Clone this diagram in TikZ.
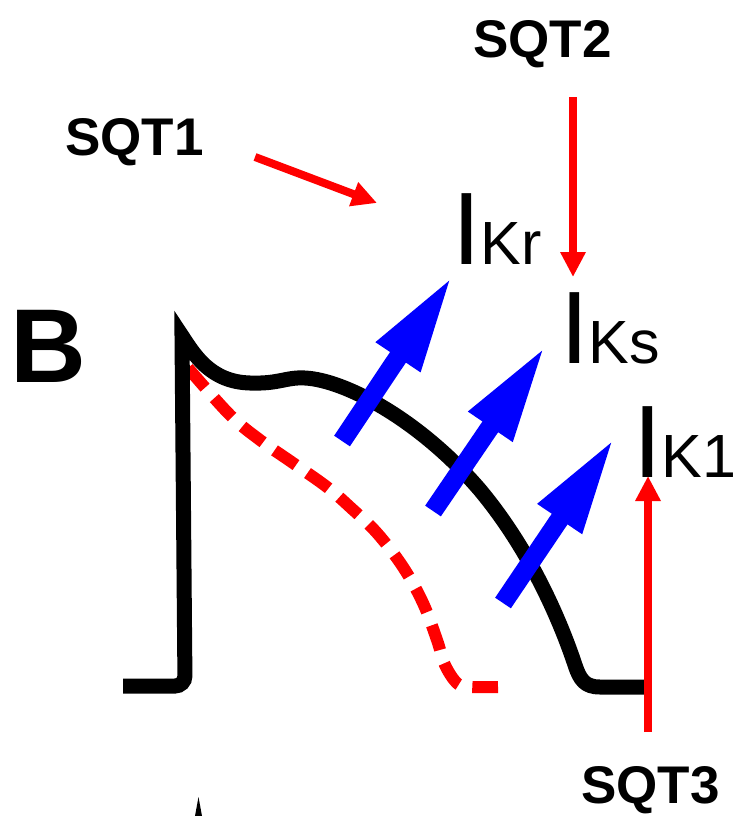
\documentclass[tikz,border=0pt]{standalone}
\usepackage{fontspec}
\setmainfont{Liberation Sans}
\usetikzlibrary{arrows.meta}

\newcommand{\ionlbl}[1]{{\fontsize{103}{103}\selectfont I}{\fontsize{61}{61}\selectfont #1}}

\begin{document}
\begin{tikzpicture}[
        x=1pt, y=-1pt,
        apline/.style={line width=15pt, line join=miter, miter limit=20},
        aprisk/.style={red, line width=12pt, dash pattern=on 26pt off 14pt},
        current/.style={blue, line width=19pt, -{Triangle[length=99pt, width=48pt]}},
        sqtarr/.style={red, line width=8pt, -{Triangle[length=25pt, width=24pt]}},
        sqtlbl/.style={anchor=base west, inner sep=0pt, font=\fontsize{53}{53}\selectfont\bfseries},
        curlbl/.style={anchor=base west, inner sep=0pt}
    ]
        \useasboundingbox (0,0) rectangle (735,816);

        \node[anchor=base west, inner sep=0pt, font=\fontsize{105}{105}\selectfont\bfseries] (panel) at (10,382) {B};

        % shortened AP (dashed)
        \draw[aprisk] plot[smooth, tension=0.6] coordinates {(188,368) (230,415) (260,440) (293,463) (327,487) (350,507) (377,533) (403,567) (423,603) (437,640) (445,665) (458,684) (472,687) (498,687)};

        % normal AP
        \draw[apline] (123,686) [rounded corners=10pt]-- (185,686) [sharp corners]-- (182,336)
            .. controls (194,354) and (210,382) .. (250,383)
            .. controls (280,384) and (285,377) .. (305,378)
            .. controls (345,380) and (420,420) .. (480,490)
            .. controls (530,550) and (560,620) .. (575,665)
            .. controls (580,680) and (585,687) .. (600,687)
            -- (650,687);
        \fill (195,816) -- (198.5,797) -- (202,816) -- cycle;

        \node[curlbl] (ikr) at (452,264) {\ionlbl{Kr}};
        \node[curlbl] (iks) at (560,363) {\ionlbl{Ks}};
        \node[curlbl] (ik1) at (633,477) {\ionlbl{K1}};

        \coordinate (kr0) at (342,441);
        \coordinate (kr1) at (453,275);
        \coordinate (ks0) at (433,511);
        \coordinate (ks1) at (546,345);
        \coordinate (k10) at (503,603);
        \coordinate (k11) at (615,437);
        \draw[current] (kr0) -- (kr1);
        \draw[current] (ks0) -- (ks1);
        \draw[current] (k10) -- (k11);

        \node[sqtlbl] (sqt1) at (65,155) {SQT1};
        \node[sqtlbl] (sqt2) at (473,57) {SQT2};
        \node[sqtlbl] (sqt3) at (581,803) {SQT3};

        \coordinate (s1a) at (255,157);
        \coordinate (s1b) at (377,203);
        \coordinate (s2a) at (573,97);
        \coordinate (s2b) at (573,277);
        \coordinate (s3a) at (648,732);
        \coordinate (s3b) at (648,476);
        \draw[sqtarr] (s1a) -- (s1b);
        \draw[sqtarr] (s2a) -- (s2b);
        \draw[sqtarr] (s3a) -- (s3b);
    \end{tikzpicture}
\end{document}
